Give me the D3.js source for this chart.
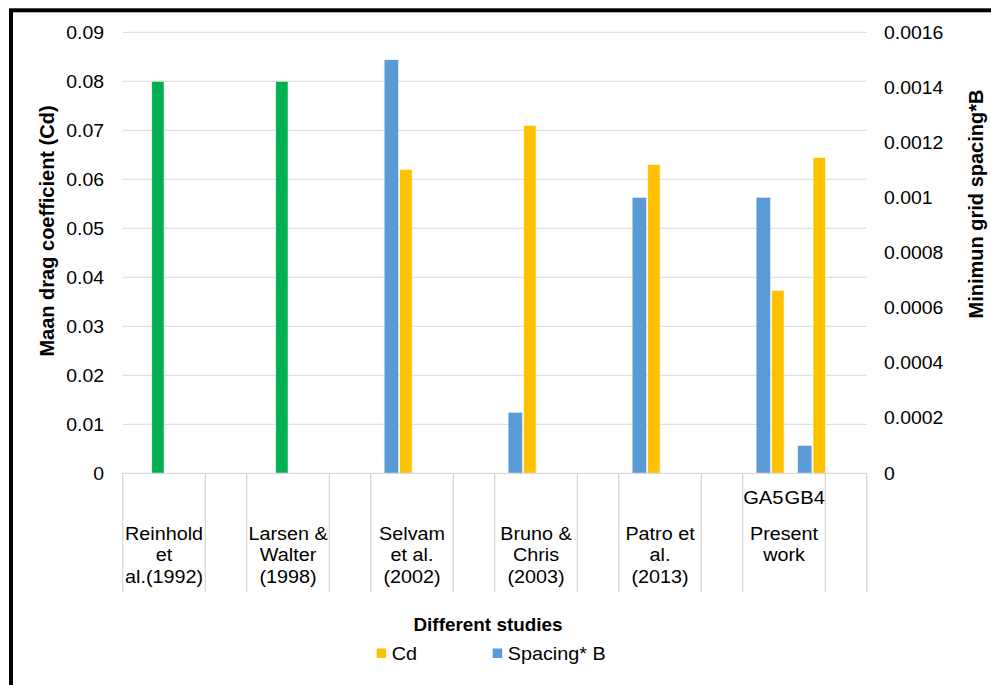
<!DOCTYPE html>
<html>
<head>
<meta charset="utf-8">
<script src="https://cdn.jsdelivr.net/npm/d3@7"></script>
<style>
  html, body { margin: 0; padding: 0; background: #fff; }
  svg { display: block; }
  text { font-family: "Liberation Sans", Arial, sans-serif; fill: #000; }
</style>
</head>
<body>
<svg id="chart" width="991" height="685"></svg>
<script>
// ---------------- DATA ----------------
const studies = ["Reinhold et al.(1992)", "Larsen & Walter (1998)", "Selvam et al. (2002)",
                 "Bruno & Chris (2003)", "Patro et al. (2013)", "Present work"];
const studyLines = [["Reinhold", "et", "al.(1992)"], ["Larsen &", "Walter", "(1998)"],
                    ["Selvam", "et al.", "(2002)"], ["Bruno &", "Chris", "(2003)"],
                    ["Patro et", "al.", "(2013)"], ["Present", "work"]];
const subLabels = [["", ""], ["", ""], ["", ""], ["", ""], ["", ""], ["GA5", "GB4"]];
// Cd of earlier studies (green bars)
const cdRefValues = [[0.08, null], [0.08, null], [null, null], [null, null], [null, null], [null, null]];
// Cd (yellow, left axis)
const cdValues = [[null, null], [null, null], [0.062, null], [0.071, null], [0.063, null], [0.0373, 0.0644]];
// Spacing* B (blue, right axis)
const spacingValues = [[null, null], [null, null], [0.0015, null], [0.00022, null], [0.001, null], [0.001, 0.0001]];
const leftTicks = [0, 0.01, 0.02, 0.03, 0.04, 0.05, 0.06, 0.07, 0.08, 0.09];
const rightTicks = [0, 0.0002, 0.0004, 0.0006, 0.0008, 0.001, 0.0012, 0.0014, 0.0016];
const seriesNames = ["Cd", "Spacing* B"];
const colors = { cdRef: "#00B050", cd: "#FFC000", spacing: "#5B9BD5" };

// ---------------- LAYOUT ----------------
const svg = d3.select("#chart");
const plot = { left: 122.7, right: 866.7, top: 32.3, bottom: 473.3 };
const SX = 1.08; // horizontal text stretch seen in the reference

// leaf categories: each study has 2 leaves followed by one spacer leaf
const leaves = [];
studies.forEach((s, i) => {
  leaves.push({ key: i + "-0", study: i, sub: 0 });
  leaves.push({ key: i + "-1", study: i, sub: 1 });
  leaves.push({ key: i + "-gap", study: i, sub: -1 });
});

const x = d3.scaleBand().domain(leaves.map(d => d.key)).range([plot.left, plot.right]).padding(0);
const inner = d3.scaleBand().domain(["none", "Spacing* B", "Cd"]).range([0, x.bandwidth()]).padding(0);
const yL = d3.scaleLinear().domain([0, 0.09]).range([plot.bottom, plot.top]);
const yR = d3.scaleLinear().domain([0, 0.0016]).range([plot.bottom, plot.top]);

function stext(g, tx, ty, str, opts = {}) {
  const sx = opts.sx == null ? SX : opts.sx;
  const t = g.append("text")
    .attr("transform", `translate(${tx},${ty})` + (opts.rot ? ` rotate(${opts.rot})` : "") + ` scale(${sx},1)`)
    .attr("text-anchor", opts.anchor || "start")
    .attr("font-size", opts.size || 18)
    .attr("font-weight", opts.bold ? "bold" : "normal")
    .text(str);
  if (opts.dy) t.attr("dy", opts.dy);
  return t;
}

// gridlines
const grid = svg.append("g");
grid.selectAll("line").data(leftTicks.slice(1)).join("line")
  .attr("x1", plot.left).attr("x2", plot.right)
  .attr("y1", d => yL(d)).attr("y2", d => yL(d))
  .attr("stroke", "#d9d9d9").attr("stroke-width", 1);

// left axis labels
const gl = svg.append("g");
leftTicks.forEach(v => stext(gl, 104, yL(v), v === 0 ? "0" : String(+v.toFixed(2)), { anchor: "end", dy: "0.35em" }));
// right axis labels
const gr = svg.append("g");
rightTicks.forEach(v => stext(gr, 884, yR(v), v === 0 ? "0" : String(+v.toFixed(4)), { anchor: "start", dy: "0.35em" }));

// bars
const bars = svg.append("g");
function addBars(values, scale, seriesPos, color, white) {
  const data = [];
  values.forEach((arr, i) => arr.forEach((v, j) => { if (v != null) data.push({ key: i + "-" + j, v }); }));
  bars.append("g").selectAll("rect").data(data).join("rect")
    .attr("x", d => x(d.key) + inner(seriesPos) + (white ? 1.5 : 0))
    .attr("width", inner.bandwidth() - (white ? 1.5 : 0))
    .attr("y", d => scale(d.v))
    .attr("height", d => scale(0) - scale(d.v))
    .attr("fill", color)
    .attr("stroke", white ? "#fff7d6" : "none")
    .attr("stroke-width", white ? 0.6 : 0);
}
addBars(spacingValues, yR, "Spacing* B", colors.spacing, false);
addBars(cdValues, yL, "Cd", colors.cd, true);
addBars(cdRefValues, yL, "Cd", colors.cdRef, true);

// category axis (multi-level)
const ax = svg.append("g");
ax.append("line").attr("x1", plot.left).attr("x2", plot.right)
  .attr("y1", plot.bottom).attr("y2", plot.bottom).attr("stroke", "#d9d9d9").attr("stroke-width", 1.3);
const tickPos = [];
leaves.forEach(d => { if (d.sub === 0 || d.sub === -1) tickPos.push(x(d.key)); });
tickPos.push(plot.right);
ax.selectAll("line.tk").data(tickPos).join("line").attr("class", "tk")
  .attr("x1", d => d).attr("x2", d => d)
  .attr("y1", plot.bottom).attr("y2", 592)
  .attr("stroke", "#d9d9d9").attr("stroke-width", 1.3);

// sub labels
leaves.filter(d => d.sub >= 0).forEach(d => {
  const lab = subLabels[d.study][d.sub];
  if (lab) stext(ax, x(d.key) + x.bandwidth() / 2, 504, lab, { anchor: "middle", sx: 1.12 });
});
// study labels
studies.forEach((s, i) => {
  const cx = x(i + "-0") + x.bandwidth();
  studyLines[i].forEach((ln, k) => stext(ax, cx, 539.5 + k * 21.6, ln, { anchor: "middle", size: 18.5, sx: 1.07 }));
});

// axis titles
stext(svg, 53.5, 231, "Maan drag coefficient (Cd)", { anchor: "middle", bold: true, size: 20, sx: 1, rot: -90 });
stext(svg, 983, 204, "Minimun grid spacing*B", { anchor: "middle", bold: true, size: 20, sx: 1, rot: -90 });
stext(svg, 488, 631, "Different studies", { anchor: "middle", bold: true, size: 17.5, sx: 1.08 });

// legend
const lg = svg.append("g");
const legendItems = [{ name: seriesNames[0], color: colors.cd, x: 376.7 }, { name: seriesNames[1], color: colors.spacing, x: 492.7 }];
legendItems.forEach(it => {
  lg.append("rect").attr("x", it.x).attr("y", 648.5).attr("width", 9.5).attr("height", 9.5).attr("fill", it.color);
  stext(lg, it.x + 15, 659.5, it.name, { sx: 1.1 });
});

// frame
svg.append("rect").attr("x", 11).attr("y", 10.3).attr("width", 1100).attr("height", 800)
  .attr("fill", "none").attr("stroke", "#000").attr("stroke-width", 4);
</script>
</body>
</html>
